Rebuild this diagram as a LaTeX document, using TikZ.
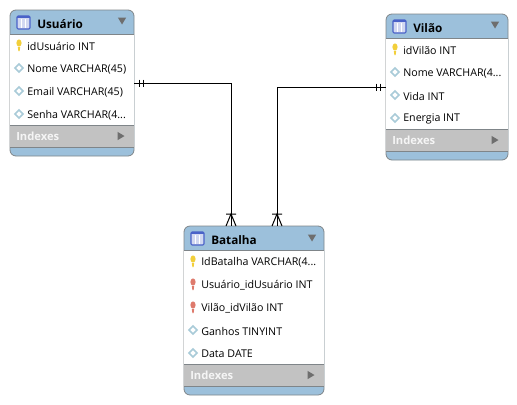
\documentclass[tikz,border=0pt]{standalone}
\usepackage{fontspec}
\setmainfont{Open Sans}
\definecolor{headblue}{HTML}{9CC0DB}
\definecolor{edgegrey}{HTML}{7F8589}
\definecolor{indexgrey}{HTML}{C2C2C2}
\definecolor{arrowgrey}{HTML}{6E6E6E}
\definecolor{keyyellow}{HTML}{F2CF3A}
\definecolor{keyred}{HTML}{DE7A6C}
\definecolor{diamondblue}{HTML}{A9CBD8}
\definecolor{iconblue}{HTML}{4A62C8}
\begin{document}
\begin{tikzpicture}[
    x=0.75pt, y=-0.75pt,
    tablebox/.style={draw=edgegrey, fill=headblue, rounded corners=4.5pt, inner sep=0pt, line width=0.6pt},
    title/.style={anchor=west, inner sep=0pt, yshift=-0.75pt, font=\fontsize{8.8}{10}\selectfont\bfseries, text=black},
    row/.style={anchor=west, inner sep=0pt, yshift=-0.75pt, font=\fontsize{8}{9}\selectfont, text=black},
    indexes/.style={anchor=west, inner sep=0pt, font=\fontsize{8.4}{9}\selectfont\bfseries, text=white!96!black},
    link/.style={draw=black, line width=0.75pt},
    pics/keyicon/.style={code={
        \fill[#1] (-1.2,2) -- (1.2,2) -- (0.6,6) -- (-0.6,6) -- cycle;
        \fill[#1] (0,-2) ellipse [x radius=2.6, y radius=3.6];
    }},
    pics/attricon/.style={code={
        \draw[diamondblue, fill=white, line width=1.1pt] (-4,0) -- (0,-4) -- (4,0) -- (0,4) -- cycle;
    }},
    pics/tableicon/.style={code={
        \draw[iconblue, fill=white!75!iconblue, line width=0.8pt, rounded corners=0.8pt] (0,0) rectangle (13,13);
        \fill[iconblue] (0,0) rectangle (13,1.6);
        \draw[white, line width=0.5pt] (4.3,3) -- (4.3,12) (8.6,3) -- (8.6,12);
    }},
    pics/downarrow/.style={code={\fill[arrowgrey] (-4.2,-3.5) -- (4.2,-3.5) -- (0,3.5) -- cycle;}},
    pics/rightarrow/.style={code={\fill[arrowgrey] (-3.5,-4.2) -- (3.5,0) -- (-3.5,4.2) -- cycle;}},
    pics/onemark/.style={code={\draw[link] (-2,-3.5) -- (-2,3.5) (2,-3.5) -- (2,3.5);}},
    pics/crowfoot/.style={code={\draw[link] (-5,0) -- (5,0) (-5,12) -- (0,0) -- (5,12);}}
]
\useasboundingbox (0,0) rectangle (517,404);

% Usuario
\node (usuario) [tablebox, minimum width=93pt, minimum height=109.5pt] at (72,83) {};
\fill[white] (10.4,34.5) rectangle (133.6,125);
\fill[indexgrey] (10.4,125) rectangle (133.6,147);
\draw[edgegrey, line width=0.6pt] (10,34.5) -- (134,34.5) (10,125) -- (134,125) (10,147) -- (134,147);
\pic at (17,16) {tableicon};
\node (usuarioTitle) [title] at (37,23) {Usuário};
\pic at (122,21) {downarrow};
\pic at (19,45) {keyicon=keyyellow};
\node (usuarioId) [row] at (27,45) {idUsuário INT};
\pic at (19,68) {attricon};
\node (usuarioNome) [row] at (27,68) {Nome VARCHAR(45)};
\pic at (19,91) {attricon};
\node (usuarioEmail) [row] at (27,91) {Email VARCHAR(45)};
\pic at (19,114) {attricon};
\node (usuarioSenha) [row] at (27,114) {Senha VARCHAR(4...};
\node (usuarioIndexes) [indexes] at (16,136) {Indexes};
\pic at (121,136) {rightarrow};

% Vilao
\node (vilao) [tablebox, minimum width=91.5pt, minimum height=109.5pt] at (447,87) {};
\fill[white] (386.4,38.5) rectangle (507.6,129);
\fill[indexgrey] (386.4,129) rectangle (507.6,151);
\draw[edgegrey, line width=0.6pt] (386,38.5) -- (508,38.5) (386,129) -- (508,129) (386,151) -- (508,151);
\pic at (393,20) {tableicon};
\node (vilaoTitle) [title] at (413,27) {Vilão};
\pic at (495,25) {downarrow};
\pic at (395,49) {keyicon=keyyellow};
\node (vilaoId) [row] at (403,49) {idVilão INT};
\pic at (395,72) {attricon};
\node (vilaoNome) [row] at (403,72) {Nome VARCHAR(4...};
\pic at (395,95) {attricon};
\node (vilaoVida) [row] at (403,95) {Vida INT};
\pic at (395,118) {attricon};
\node (vilaoEnergia) [row] at (403,118) {Energia INT};
\node (vilaoIndexes) [indexes] at (392,140) {Indexes};
\pic at (495,140) {rightarrow};

% Batalha
\node (batalha) [tablebox, minimum width=105pt, minimum height=126.75pt] at (254,310.5) {};
\fill[white] (184.4,250.5) rectangle (323.6,364);
\fill[indexgrey] (184.4,364) rectangle (323.6,386);
\draw[edgegrey, line width=0.6pt] (184,250.5) -- (324,250.5) (184,364) -- (324,364) (184,386) -- (324,386);
\pic at (191,232) {tableicon};
\node (batalhaTitle) [title] at (211,239) {Batalha};
\pic at (312,238) {downarrow};
\pic at (193,261) {keyicon=keyyellow};
\node (batalhaId) [row] at (201,261) {IdBatalha VARCHAR(4...};
\pic at (193,284) {keyicon=keyred};
\node (batalhaUsuario) [row] at (201,284) {Usuário\_idUsuário INT};
\pic at (193,307) {keyicon=keyred};
\node (batalhaVilao) [row] at (201,307) {Vilão\_idVilão INT};
\pic at (193,330) {attricon};
\node (batalhaGanhos) [row] at (201,330) {Ganhos TINYINT};
\pic at (193,353) {attricon};
\node (batalhaData) [row] at (201,353) {Data DATE};
\node (batalhaIndexes) [indexes] at (190,375) {Indexes};
\pic at (311,375) {rightarrow};

% links
\draw[link] (usuario.east) -| ([xshift=-17.25pt]batalha.north);
\draw[link] (vilao.west) -| ([xshift=17.25pt]batalha.north);
\pic at (141,83) {onemark};
\pic at (378,87) {onemark};
\pic at (231,214) {crowfoot};
\pic at (277,214) {crowfoot};
\end{tikzpicture}
\end{document}
